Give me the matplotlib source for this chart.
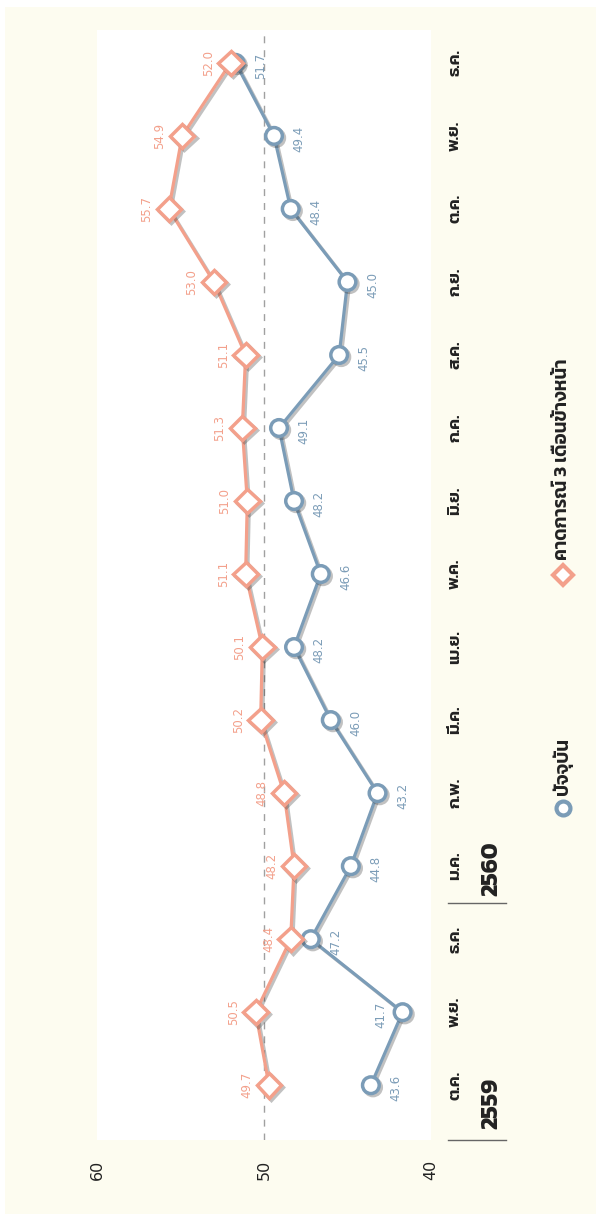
import matplotlib
matplotlib.use("Agg")
import matplotlib.pyplot as plt
import matplotlib.patheffects as pe
from matplotlib.patches import Rectangle

plt.rcParams['font.family'] = ['Kanit', 'DejaVu Sans']

# -----------------------------
# DATA
# -----------------------------
months = ['ต.ค.', 'พ.ย.', 'ธ.ค.', 'ม.ค.', 'ก.พ.', 'มี.ค.', 'เม.ย.', 'พ.ค.',
          'มิ.ย.', 'ก.ค.', 'ส.ค.', 'ก.ย.', 'ต.ค.', 'พ.ย.', 'ธ.ค.']
current = [43.6, 41.7, 47.2, 44.8, 43.2, 46.0, 48.2, 46.6, 48.2, 49.1,
           45.5, 45.0, 48.4, 49.4, 51.7]
forecast = [49.7, 50.5, 48.4, 48.2, 48.8, 50.2, 50.1, 51.1, 51.0, 51.3,
            51.1, 53.0, 55.7, 54.9, 52.0]
years = ['2559', '2560']
value_ticks = [60, 50, 40]
legend_labels = ['ปัจจุบัน', 'คาดการณ์ 3 เดือนข้างหน้า']

blue = '#7b9cb7'
orange = '#f3a08b'
cream = '#fdfcf0'

W, H = 596, 1214
fig = plt.figure(figsize=(W / 100, H / 100), dpi=100)
fig.patch.set_facecolor('white')
fig.add_artist(Rectangle((5 / W, 0), 1, 1 - 7 / H, transform=fig.transFigure,
                         facecolor=cream, edgecolor='none', zorder=-10))

# the chart is drawn turned a quarter turn: months go bottom->top, values right->left
ax = fig.add_axes([97 / W, (H - 1140) / H, 334 / W, 1110 / H])
ax.set_facecolor('white')
for s in ax.spines.values():
    s.set_visible(False)

idx = list(range(len(months)))
ax.set_xlim(60, 40)
ax.set_ylim(-0.75, 14.45)
ax.axvline(50, color='#a0a0a0', lw=1, ls=(0, (5, 5)), zorder=1)

shadow = [pe.SimpleLineShadow(offset=(1.5, -1.5), shadow_color='#333333', alpha=0.3),
          pe.Normal()]
ax.plot(current, idx, color=blue, lw=2.3, marker='o', ms=12, mfc='white',
        mec=blue, mew=2.5, zorder=3, path_effects=shadow)
ax.plot(forecast, idx, color=orange, lw=2.3, marker='D', ms=12.5, mfc='white',
        mec=orange, mew=2.5, zorder=4, path_effects=shadow)

# value labels
for i, v in enumerate(current):
    dx = -16 if i == 1 else 18
    ax.annotate(f'{v:.1f}', (v, i), xytext=(dx, -2), textcoords='offset points',
                rotation=90, ha='center', va='center', fontsize=8.5, color=blue,
                family='DejaVu Sans')
for i, v in enumerate(forecast):
    ax.annotate(f'{v:.1f}', (v, i), xytext=(-16, 0), textcoords='offset points',
                rotation=90, ha='center', va='center', fontsize=8.5, color=orange,
                family='DejaVu Sans')

ax.set_xticks(value_ticks)
ax.set_xticklabels([str(t) for t in value_ticks], rotation=90, fontsize=11.5,
                   family='DejaVu Sans')
ax.set_yticks([])
ax.tick_params(axis='x', length=0, pad=14, colors='#222222')

yt = ax.get_yaxis_transform()

# month labels
for i, m in enumerate(months):
    ax.text(1.072, i, m, transform=yt, rotation=90, ha='center', va='center',
            fontsize=12.5, fontweight='semibold', color='#222222')

# year labels and separators
ax.text(1.18, -0.25, years[0], transform=yt, rotation=90, ha='center', va='center',
        fontsize=17, fontweight='bold', color='#222222')
ax.text(1.18, 2.97, years[1], transform=yt, rotation=90, ha='center', va='center',
        fontsize=17, fontweight='bold', color='#222222')
for yy in [-0.75, 2.5]:
    ax.plot([1.05, 1.225], [yy, yy], transform=yt, color='#666666', lw=1,
            clip_on=False)

# legend
ax.plot([1.395], [3.8], transform=yt, marker='o', ms=10, mfc='white', mec=blue,
        mew=3, clip_on=False)
ax.text(1.395, 3.97, legend_labels[0], transform=yt, rotation=90, ha='center',
        va='bottom', fontsize=13.5, fontweight='semibold', color='#222222')
ax.plot([1.395], [6.99], transform=yt, marker='D', ms=10, mfc='white', mec=orange,
        mew=3, clip_on=False)
ax.text(1.395, 7.19, legend_labels[1], transform=yt, rotation=90, ha='center',
        va='bottom', fontsize=13.5, fontweight='semibold', color='#222222')

fig.savefig('out.png', dpi=100, facecolor=fig.get_facecolor())
